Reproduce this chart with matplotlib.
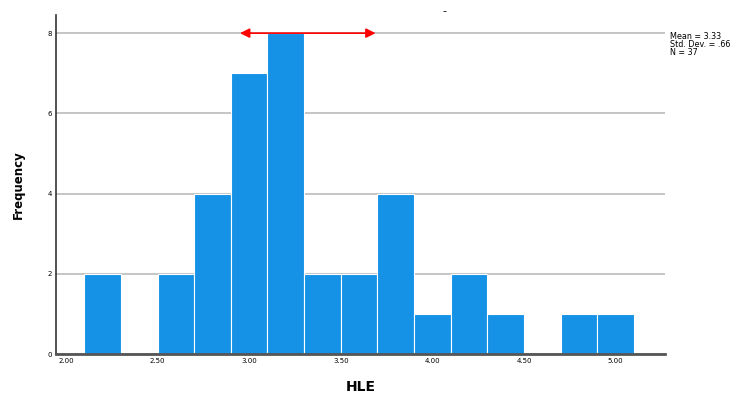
import numpy as np
import matplotlib
matplotlib.use('Agg')
import matplotlib.pyplot as plt

# Histogram bins (HLE) and counts
bin_edges = [2.1, 2.3, 2.5, 2.7, 2.9, 3.1, 3.3, 3.5, 3.7, 3.9, 4.1, 4.3, 4.5, 4.7, 4.9, 5.1]
counts = [2, 0, 2, 4, 7, 8, 2, 2, 4, 1, 2, 1, 0, 1, 1]
x_ticks = [2.0, 2.5, 3.0, 3.5, 4.0, 4.5, 5.0]
x_labels = ['2.00', '2.50', '3.00', '3.50', '4.00', '4.50', '5.00']
y_ticks = [0, 2, 4, 6, 8]
arrow_span = [2.95, 3.69]
stats_text = 'Mean = 3.33\nStd. Dev. = .66\nN = 37'

fig = plt.figure(figsize=(7.44, 3.97), dpi=100)
ax = fig.add_axes([0.075, 0.108, 0.819, 0.854])

edges = np.array(bin_edges)
ax.bar(edges[:-1], counts, width=np.diff(edges), align='edge',
       color='#1592e6', edgecolor='white', linewidth=0.8, zorder=2)

ax.set_xlim(1.945, 5.27)
ax.set_ylim(0, 8.45)
ax.set_xticks(x_ticks)
ax.set_xticklabels(x_labels)
ax.set_yticks(y_ticks)
ax.tick_params(axis='both', labelsize=5, length=0, pad=3)
ax.grid(axis='y', color='#c0c0c0', linewidth=1.3, zorder=0)

for s in ['top', 'right']:
    ax.spines[s].set_visible(False)
ax.spines['left'].set_color('#333333')
ax.spines['left'].set_linewidth(1.2)
ax.spines['bottom'].set_color('#555555')
ax.spines['bottom'].set_linewidth(2)

ax.set_xlabel('HLE', fontsize=10, fontweight='bold', labelpad=11)
ax.set_ylabel('Frequency', fontsize=8.5, fontweight='bold', labelpad=16)

# mean +/- spread arrow
ax.annotate('', xy=(arrow_span[0], 8.0), xytext=(arrow_span[1], 8.0),
            arrowprops=dict(arrowstyle='<|-|>', color='red', lw=1.2,
                            mutation_scale=14, shrinkA=0, shrinkB=0), zorder=4)

fig.text(0.598, 0.985, '-', fontsize=8, ha='center', va='top')
fig.text(0.901, 0.92, stats_text, fontsize=5.8, va='top', ha='left', linespacing=0.9)

fig.savefig('out.png', dpi=100)
